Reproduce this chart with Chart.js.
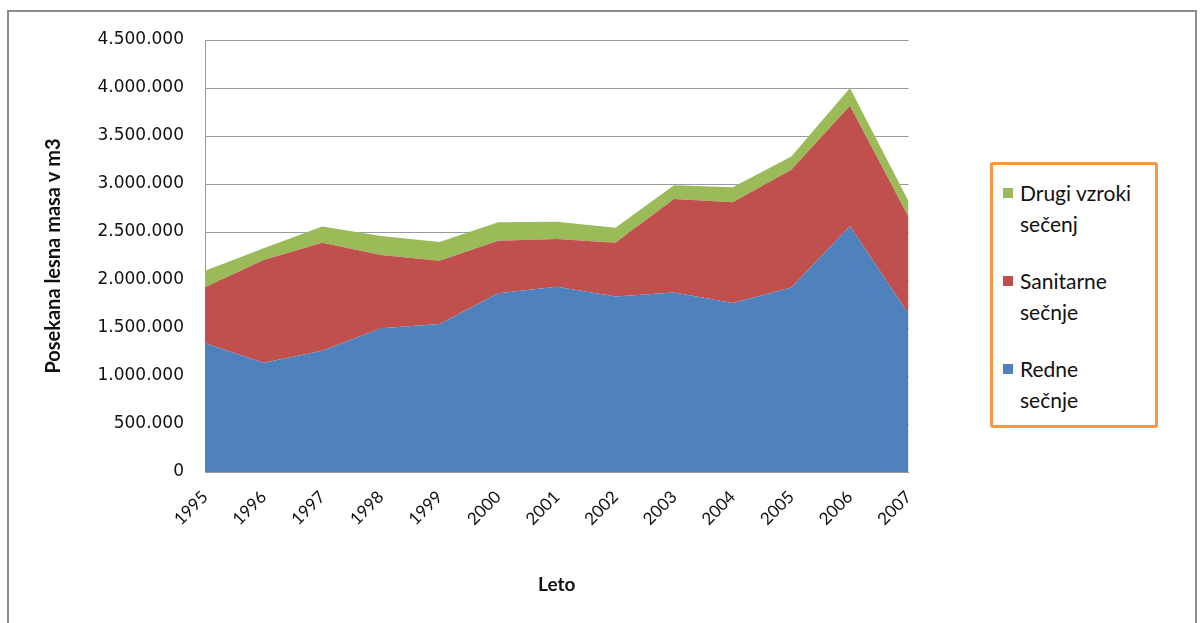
<!DOCTYPE html>
<html>
<head>
<meta charset="utf-8">
<script src="https://cdn.jsdelivr.net/npm/chart.js@4"></script>
<style>
  body { margin:0; background:#fff; width:1200px; height:623px; overflow:hidden; position:relative; }
  #frame { position:absolute; left:7px; top:10px; width:1186px; height:640px; border:2px solid #8c8c8c; }
  #wrap { position:absolute; left:0; top:0; width:930px; height:623px; }
  #legend { position:absolute; left:990px; top:162px; width:162px; height:260px; border:3px solid #f79646; border-radius:3px; font-family:Lato, sans-serif; font-size:21px; color:#111; }
  .item { position:absolute; left:10px; line-height:31px; }
  .box { position:absolute; left:0; top:11px; width:10px; height:10px; }
  .txt { margin-left:17px; white-space:nowrap; }
</style>
</head>
<body>
<div id="frame"></div>
<div id="wrap"><canvas id="myChart"></canvas></div>
<div id="legend"></div>
<script>
const ctx = document.querySelector('#myChart').getContext('2d');

// years
const labels = ['1995','1996','1997','1998','1999','2000','2001','2002','2003','2004','2005','2006','2007'];

// m3 per year
const redne =     [1340000,1139000,1264000,1497000,1542000,1861000,1930000,1829000,1871000,1761000,1922000,2562000,1647000];
const sanitarne = [ 584000,1069000,1125000, 763000, 659000, 549000, 497000, 560000, 973000,1049000,1227000,1253000,1008000];
const drugi =     [ 173000, 122000, 167000, 198000, 195000, 191000, 180000, 155000, 142000, 155000, 138000, 186000, 166000];

const yTicks = [0,500000,1000000,1500000,2000000,2500000,3000000,3500000,4000000,4500000];

const colBlue = '#4f81bd', colRed = '#c0504d', colGreen = '#9bbb59';

const data = {
    labels,
    datasets: [
        { label: 'Redne sečnje', data: redne, backgroundColor: colBlue, fill: 'origin' },
        { label: 'Sanitarne sečnje', data: sanitarne, backgroundColor: colRed, fill: '-1' },
        { label: 'Drugi vzroki sečenj', data: drugi, backgroundColor: colGreen, fill: '-1' }
    ]
};

const config = {
    type: 'line',
    data: data,
    options: {
        responsive: true,
        maintainAspectRatio: false,
        animation: false,
        layout: { padding: { left: 38, top: 40, right: 18, bottom: 23 } },
        elements: {
            point: { radius: 0 },
            line: { borderWidth: 0, tension: 0 }
        },
        plugins: { legend: { display: false }, tooltip: { enabled: false } },
        scales: {
            x: {
                offset: false,
                grid: { display: false },
                border: { display: true, color: '#9a9a9a' },
                ticks: {
                    color: '#111', font: { family: 'Lato', size: 17 },
                    maxRotation: 45, minRotation: 45, padding: 7
                },
                title: { display: true, text: 'Leto', color: '#111', font: { family: 'Lato', size: 19, weight: 'bold' } },
                afterFit: (s) => { s.height = 128; }
            },
            y: {
                stacked: true,
                min: 0, max: 4500000,
                afterBuildTicks: (s) => { s.ticks = yTicks.map(v => ({ value: v })); },
                grid: { color: '#9a9a9a', drawTicks: false },
                border: { display: true, color: '#9a9a9a' },
                ticks: {
                    color: '#111', font: { family: 'DejaVu Sans', size: 17 }, padding: 21,
                    // 4.500.000 style
                    callback: (v) => String(v).replace(/\B(?=(\d{3})+(?!\d))/g, '.')
                },
                title: { display: true, text: 'Posekana lesna masa v m3', color: '#111', font: { family: 'Lato', size: 20, weight: 'bold' } },
                afterFit: (s) => { s.width = 167; }
            }
        }
    }
};

const myChart = new Chart(ctx, config);

// legend box, top item first, last word on its own line like the original
const legend = document.getElementById('legend');
[...myChart.data.datasets].reverse().forEach((ds, i) => {
    const words = ds.label.split(' ');
    const last = words.pop();
    const item = document.createElement('div');
    item.className = 'item';
    item.style.top = (12 + i * 88) + 'px';
    item.innerHTML = '<span class="box" style="background:' + ds.backgroundColor + '"></span>' +
        '<div class="txt">' + words.join(' ') + '<br>' + last + '</div>';
    legend.appendChild(item);
});
</script>
</body>
</html>
